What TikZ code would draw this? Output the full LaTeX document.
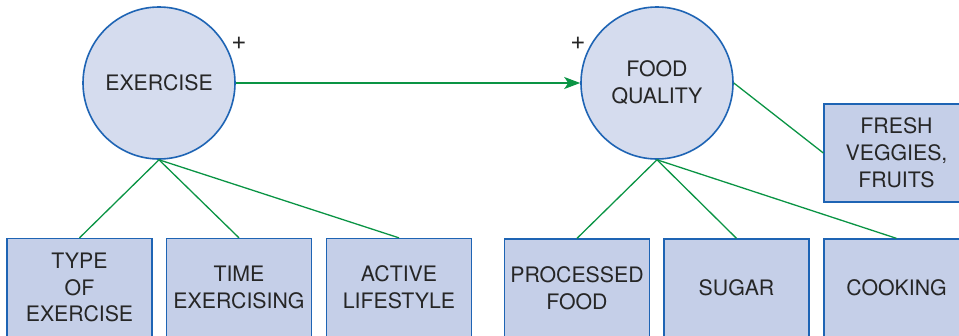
\documentclass[tikz,border=0pt]{standalone}
\usepackage{fontspec}
\setmainfont{TeX Gyre Heros}
\usetikzlibrary{arrows.meta}
\definecolor{circfill}{RGB}{213,220,238}
\definecolor{boxfill}{RGB}{197,207,232}
\definecolor{edgeblue}{RGB}{30,100,180}
\definecolor{linkgreen}{RGB}{10,148,68}
\begin{document}
\begin{tikzpicture}[x=1pt,y=-1pt,
  conc/.style={circle,draw=edgeblue,fill=circfill,line width=1.6pt,minimum size=152pt,inner sep=0pt,align=center,font=\fontsize{21.3}{26.8}\selectfont,text=black!85},
  factor/.style={rectangle,draw=edgeblue,fill=boxfill,line width=1.3pt,minimum width=145pt,minimum height=98pt,inner sep=0pt,align=center,font=\fontsize{21.3}{26.8}\selectfont,text=black!85},
  link/.style={draw=linkgreen,line width=1.3pt},
  sign/.style={font=\fontsize{26}{28}\selectfont,text=black!85,inner sep=0pt}]
\useasboundingbox (0,0) rectangle (959,335);
\node[conc] (ex) at (159,83) {EXERCISE};
\node[conc] (fq) at (657,83) {FOOD\\QUALITY};
\node[sign] (p1) at (239,43) {+};
\node[sign] (p2) at (578,43) {+};
\node[factor] (t1) at (79.5,287.5) {TYPE\\OF\\EXERCISE};
\node[factor] (t2) at (239,287.5) {TIME\\EXERCISING};
\node[factor] (t3) at (399,287.5) {ACTIVE\\LIFESTYLE};
\node[factor] (f1) at (577,288) {PROCESSED\\FOOD};
\node[factor] (f2) at (736.5,288) {SUGAR};
\node[factor] (f3) at (896.5,288) {COOKING};
\node[factor] (fr) at (896.5,153) {FRESH\\VEGGIES,\\FRUITS};
\draw[link,-{Stealth[length=16pt,width=12pt,inset=4pt]}] (ex.east) -- (fq.west);
\draw[link] (ex.south) -- (t1.north);
\draw[link] (ex.south) -- (t2.north);
\draw[link] (ex.south) -- (t3.north);
\draw[link] (fq.south) -- (f1.north);
\draw[link] (fq.south) -- (f2.north);
\draw[link] (fq.south) -- (f3.north);
\draw[link] (fq.east) -- (fr.west);
\end{tikzpicture}
\end{document}
